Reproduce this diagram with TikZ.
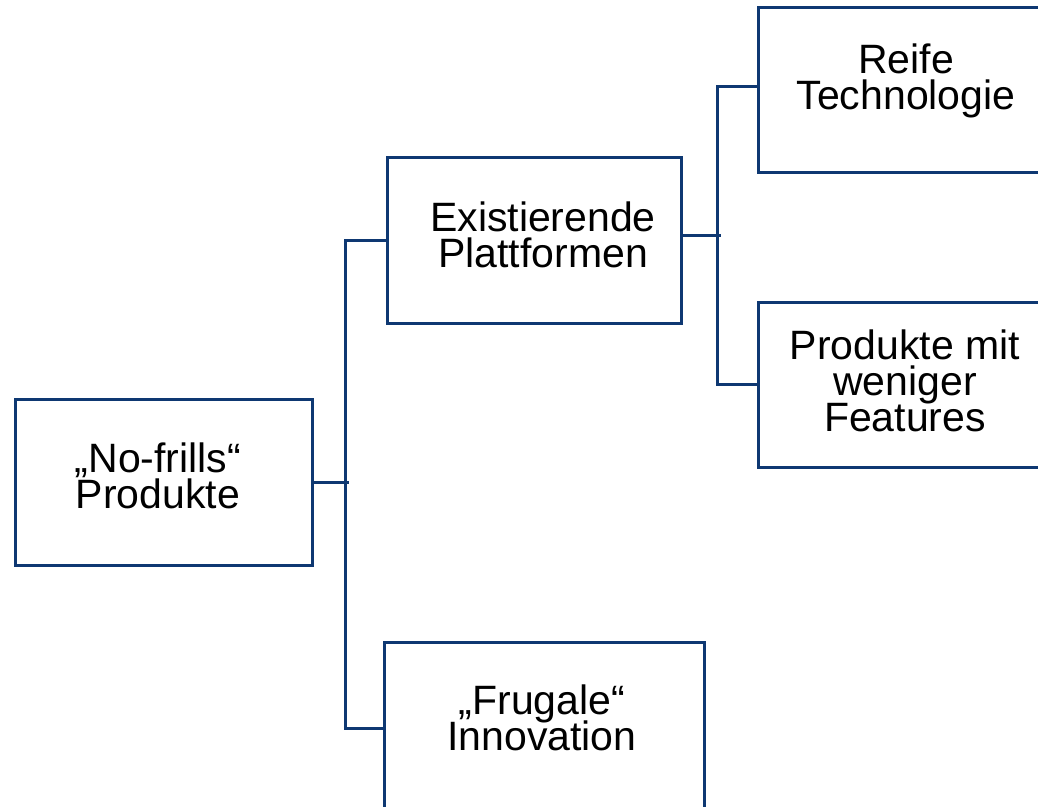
\documentclass[tikz,border=0pt]{standalone}
\usepackage{fontspec}
\setmainfont{Liberation Sans}
\definecolor{frame}{RGB}{14,56,114}
\newcommand{\boxfont}{\fontsize{41}{36}\selectfont\lineskiplimit=-100pt\relax}
\begin{document}
\begin{tikzpicture}[x=1pt,y=-1pt,
  box/.style={draw=frame, line width=3pt, rectangle, inner sep=0pt},
  conn/.style={draw=frame, line width=3pt},
  lbl/.style={align=center, inner sep=0pt, text=black, font=\boxfont}]
\clip (0,0) rectangle (1038,806);

% boxes of the tree
\node[box, minimum width=297pt, minimum height=166pt] (A) at (163.5,482) {};
\node[box, minimum width=294pt, minimum height=166pt] (B) at (534,240) {};
\node[box, minimum width=298pt, minimum height=165pt] (C) at (907,89.5) {};
\node[box, minimum width=298pt, minimum height=165pt] (D) at (907,384.5) {};
\node[box, minimum width=320pt, minimum height=172pt] (E) at (544,728) {};

% box texts
\node[lbl] (tA) at (158,476) {„No-frills“\\Produkte};
\node[lbl] (tB) at (543,235) {Existierende\\Plattformen};
\node[lbl] (tC) at (906,81) {Reife\\Technologie};
\node[lbl] (tD) at (905,381) {Produkte mit\\weniger\\Features};
\node[lbl] (tE) at (542,717.5) {„Frugale“\\Innovation};

% connectors
\draw[conn] (A.east) -- ++(35,0);
\draw[conn] (B.west) -- ++(-40,0) |- (E.west);
\draw[conn] ([yshift=5pt]B.east) -- ++(38,0);
\draw[conn] ([yshift=3pt]C.west) -- ++(-39,0) |- (D.west);
\end{tikzpicture}
\end{document}
